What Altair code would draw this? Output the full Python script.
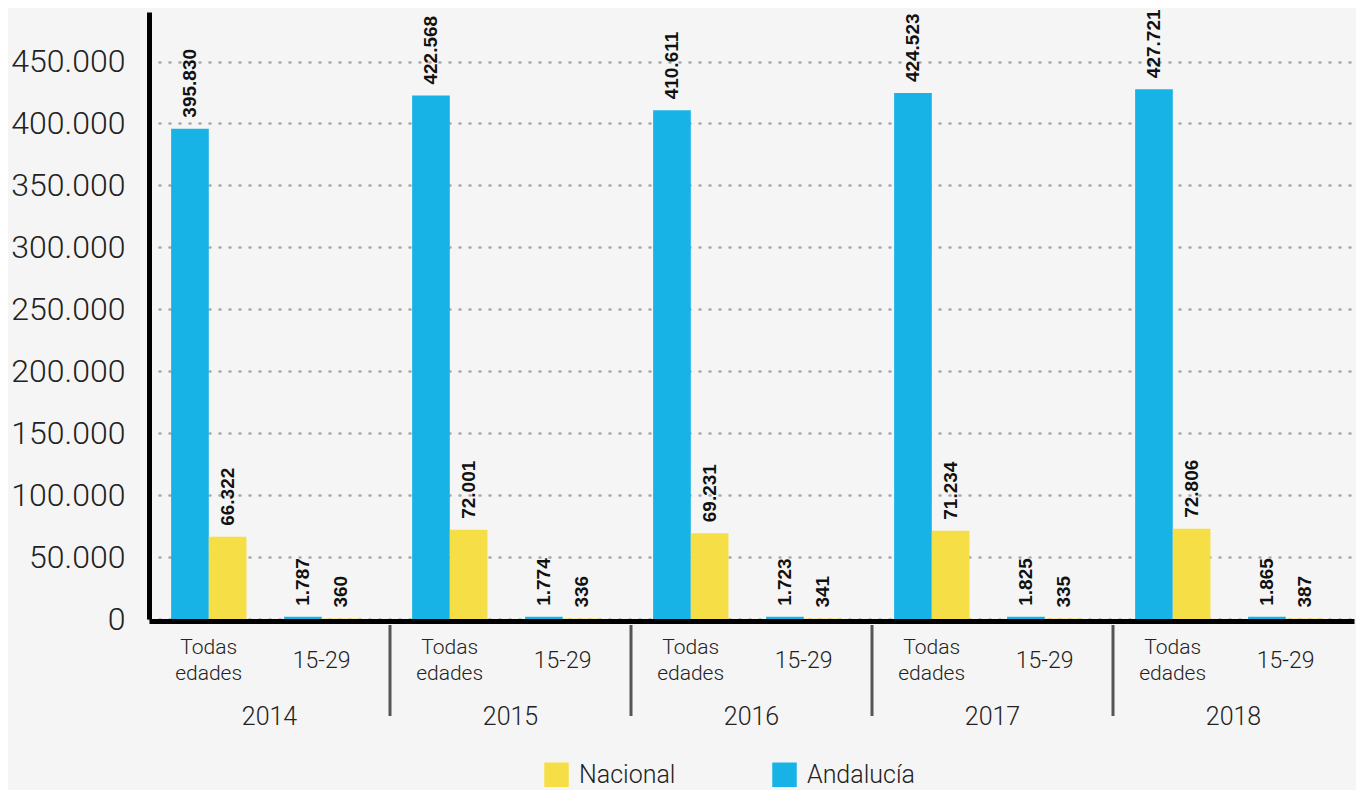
import altair as alt
import pandas as pd

years = ["2014", "2015", "2016", "2017", "2018"]
series = ["Nacional", "Andalucía"]
andalucia_todas = [395830, 422568, 410611, 424523, 427721]
nacional_todas = [66322, 72001, 69231, 71234, 72806]
andalucia_1529 = [1787, 1774, 1723, 1825, 1865]
nacional_1529 = [360, 336, 341, 335, 387]
y_ticks = [0, 50000, 100000, 150000, 200000, 250000, 300000, 350000, 400000, 450000]
group_labels = ["Todas\nedades", "15-29"]

BLUE = "#17b2e6"
YELLOW = "#f6de46"
LIGHT = "Roboto"

rows = []
for i, yr in enumerate(years):
    rows.append(dict(year=yr, serie="Andalucía", slot="T-A", value=andalucia_todas[i]))
    rows.append(dict(year=yr, serie="Nacional", slot="T-N", value=nacional_todas[i]))
    rows.append(dict(year=yr, serie="Andalucía", slot="J-A", value=andalucia_1529[i]))
    rows.append(dict(year=yr, serie="Nacional", slot="J-N", value=nacional_1529[i]))
df = pd.DataFrame(rows)

df_lab_t = pd.DataFrame(dict(year=years, slot=["T-N"] * len(years), lab=[group_labels[0]] * len(years)))
df_lab_j = pd.DataFrame(dict(year=years, slot=["J-N"] * len(years), lab=[group_labels[1]] * len(years)))
df_year = pd.DataFrame(dict(year=years))
df_sep = pd.DataFrame(dict(year=years[1:]))

slot_domain = ["T-A", "T-N", "gap", "J-A", "J-N"]

x_enc = alt.X(
    "year:N",
    scale=alt.Scale(domain=years, paddingInner=0, paddingOuter=0),
    axis=alt.Axis(labels=False, ticks=False, title=None, domainColor="#000000",
                  domainWidth=5, offset=2, grid=False),
)
xo_enc = alt.XOffset("slot:N", scale=alt.Scale(domain=slot_domain, paddingInner=0,
                                               paddingOuter=0.7, align=0.42))
y_enc = alt.Y(
    "value:Q",
    scale=alt.Scale(domain=[0, 490000], nice=False),
    axis=alt.Axis(
        values=y_ticks, title=None, ticks=False, grid=True,
        gridColor="#a8a8a8", gridDash=[1, 9], gridWidth=2.5, gridCap="round",
        domainColor="#000000", domainWidth=5,
        labelFont=LIGHT, labelFontWeight=300, labelFontSize=32, labelColor="#222222",
        labelPadding=24,
        labelExpr="replace(format(datum.value, ','), ',', '.')",
    ),
)

bars = alt.Chart(df).mark_bar().encode(
    x=x_enc,
    xOffset=xo_enc,
    y=y_enc,
    color=alt.Color(
        "serie:N",
        scale=alt.Scale(domain=series, range=[YELLOW, BLUE]),
        legend=alt.Legend(
            title=None, orient="none", direction="horizontal", legendX=395, legendY=750,
            symbolType="square", symbolSize=600, symbolStrokeWidth=0, symbolOpacity=1,
            labelFont=LIGHT, labelFontWeight=300, labelFontSize=25, labelColor="#222222",
            labelOffset=10, columnPadding=96,
        ),
    ),
)

values = alt.Chart(df).transform_calculate(
    label="replace(format(datum.value, ','), ',', '.')"
).mark_text(
    angle=270, align="left", baseline="middle", dx=11,
    font="Liberation Sans", fontWeight="bold", fontSize=19, color="#111111",
).encode(x=x_enc, xOffset=xo_enc, y=alt.Y("value:Q"), text="label:N")

sub_t = alt.Chart(df_lab_t).mark_text(
    dx=-19, baseline="middle", align="center", lineBreak="\n", lineHeight=26,
    font=LIGHT, fontWeight=300, fontSize=21, color="#222222",
).encode(x=x_enc, xOffset=xo_enc, y=alt.value(636), text="lab:N")

sub_j = alt.Chart(df_lab_j).mark_text(
    dx=-19, baseline="middle", align="center",
    font=LIGHT, fontWeight=300, fontSize=23, color="#222222",
).encode(x=x_enc, xOffset=xo_enc, y=alt.value(649), text="lab:N")

year_labels = alt.Chart(df_year).mark_text(
    baseline="middle", align="center", font=LIGHT, fontWeight=300, fontSize=25, color="#222222",
).encode(x=x_enc, y=alt.value(705), text="year:N")

seps = alt.Chart(df_sep).mark_rule(color="#555555", strokeWidth=3).encode(
    x=alt.X("year:N", bandPosition=0),
    y=alt.value(613),
    y2=alt.value(704),
)

chart = alt.layer(bars, values, sub_t, sub_j, year_labels, seps).properties(
    width=1205,
    height=607,
    autosize=alt.AutoSizeParams(type="none"),
    padding={"left": 141, "top": 4, "right": 2, "bottom": 171},
    background="#f5f5f5",
).configure_view(stroke=None)

chart.save("out.html", embed_options={"renderer": "svg", "actions": False})
